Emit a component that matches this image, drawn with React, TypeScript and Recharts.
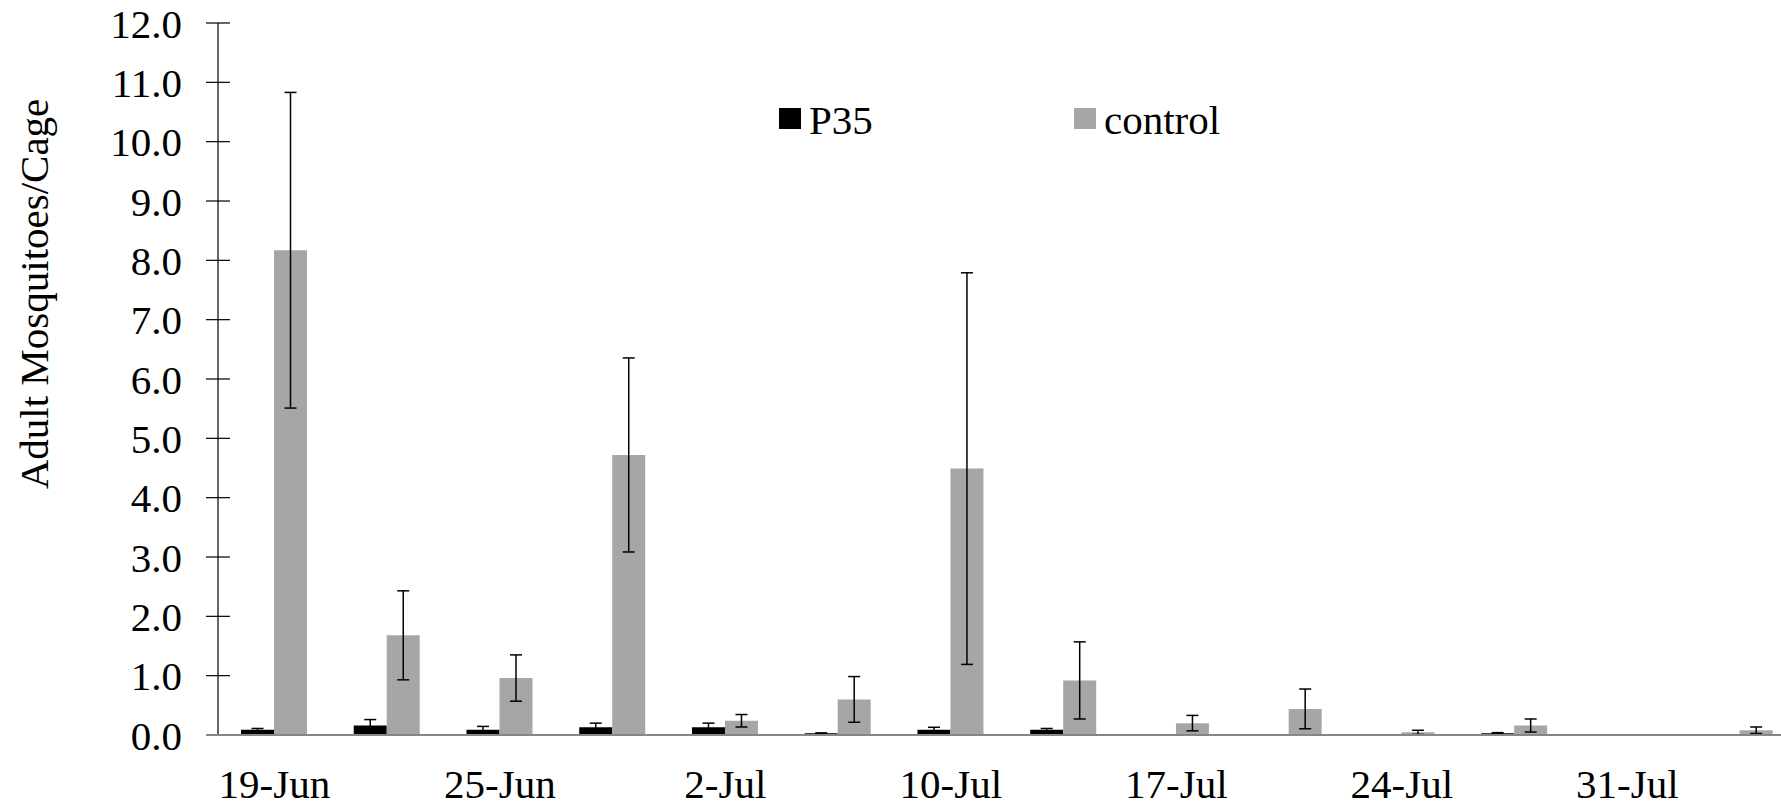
import { BarChart, Bar, XAxis, YAxis, ErrorBar } from "recharts";

const FONT = '"Liberation Serif", "Times New Roman", serif';
const GRAY = "#a6a6a6";

// sampling dates (every other label is shown on the axis)
const dates = [
  "19-Jun", "", "25-Jun", "", "2-Jul", "", "10-Jul", "",
  "17-Jul", "", "24-Jul", "", "31-Jul", "",
];
const p35 = [0.09, 0.16, 0.09, 0.13, 0.13, 0.03, 0.09, 0.09, 0, 0, 0, 0.03, 0, 0];
const p35Err = [0.02, 0.1, 0.055, 0.07, 0.07, 0.005, 0.04, 0.02, 0, 0, 0, 0.01, 0, 0];
const control = [8.17, 1.68, 0.96, 4.72, 0.24, 0.6, 4.49, 0.92, 0.2, 0.44, 0.045, 0.16, 0, 0.08];
const controlErr = [2.66, 0.75, 0.39, 1.635, 0.105, 0.385, 3.3, 0.65, 0.13, 0.335, 0.035, 0.11, 0, 0.055];
const yTicks = [0, 1, 2, 3, 4, 5, 6, 7, 8, 9, 10, 11, 12];

const data = dates.map((date, i) => ({
  idx: i,
  date,
  p35: p35[i],
  p35Err: p35Err[i],
  control: control[i],
  controlErr: controlErr[i],
}));

const legendItems = [
  { name: "P35", color: "#000", left: 779 },
  { name: "control", color: GRAY, left: 1074 },
];

// excel style "cross" tick marks on the value axis
function YTick(props: any) {
  const { x, y, payload } = props;
  const axisX = x + 36;
  const zero = payload.value === 0;
  return (
    <g>
      <line
        x1={axisX - 12}
        x2={axisX + 12}
        y1={y}
        y2={y}
        stroke={zero ? "#878787" : "#000"}
        strokeWidth={zero ? 2 : 1.2}
      />
      <text
        x={x}
        y={y}
        dy="0.355em"
        textAnchor="end"
        fontSize={41}
        fontFamily={FONT}
        fill="#000"
      >
        {payload.value.toFixed(1)}
      </text>
    </g>
  );
}

function AxisTitle() {
  return (
    <text
      x={48}
      y={294}
      transform="rotate(-90 48 294)"
      textAnchor="middle"
      fontSize={41}
      fontFamily={FONT}
      fill="#000"
    >
      Adult Mosquitoes/Cage
    </text>
  );
}

export default function App() {
  return (
    <div
      style={{
        position: "absolute",
        left: 0,
        top: 0,
        width: 1781,
        height: 807,
        overflow: "hidden",
        background: "#fff",
      }}
    >
      <BarChart
        width={1800}
        height={807}
        data={data}
        margin={{ top: 23, right: 3.6, left: 0, bottom: 0 }}
        barGap={0}
        barSize={33}
      >
        <XAxis
          dataKey="idx"
          tickFormatter={(i: number) => dates[i]}
          interval={0}
          tickLine={false}
          tickSize={0}
          tickMargin={34}
          height={72}
          axisLine={{ stroke: "#878787", strokeWidth: 2 }}
          tick={{ fill: "#000", fontSize: 41, fontFamily: FONT }}
        />
        <YAxis
          domain={[0, 12]}
          ticks={yTicks}
          width={218}
          tickSize={12}
          tickMargin={24}
          tickLine={false}
          axisLine={{ stroke: "#000", strokeWidth: 1.2 }}
          tick={<YTick />}
          label={<AxisTitle />}
        />
        <Bar dataKey="p35" fill="#000" isAnimationActive={false}>
          <ErrorBar dataKey="p35Err" width={6} stroke="#000" strokeWidth={1.5} />
        </Bar>
        <Bar dataKey="control" fill={GRAY} isAnimationActive={false}>
          <ErrorBar dataKey="controlErr" width={6} stroke="#000" strokeWidth={1.5} />
        </Bar>
      </BarChart>

      {legendItems.map((item) => (
        <div key={item.name}>
          <div
            style={{
              position: "absolute",
              left: item.left,
              top: 108,
              width: 22,
              height: 21,
              background: item.color,
            }}
          />
          <div
            style={{
              position: "absolute",
              left: item.left + 30,
              top: 100,
              fontFamily: FONT,
              fontSize: 41,
              lineHeight: "41px",
              color: "#000",
              whiteSpace: "nowrap",
            }}
          >
            {item.name}
          </div>
        </div>
      ))}
    </div>
  );
}
